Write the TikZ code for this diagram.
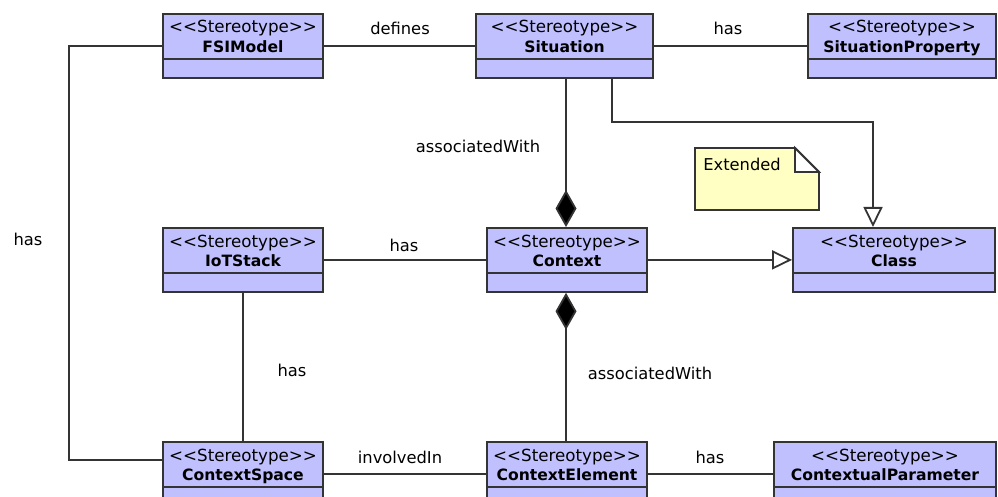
\documentclass[tikz,border=0pt]{standalone}
\usepackage{fontspec}
\setmainfont{DejaVu Sans}[Ligatures=TeXOff]
\usetikzlibrary{arrows.meta}

\definecolor{classfill}{RGB}{192,192,255}
\definecolor{notefill}{RGB}{255,255,196}
\definecolor{linec}{RGB}{52,52,52}

\tikzset{
  classbox/.style={draw=linec, fill=classfill, line width=1.8pt, rectangle,
    inner sep=0pt, minimum height=64pt},
  stereo/.style={inner sep=0pt, font=\fontsize{16.7}{18}\selectfont},
  cname/.style={inner sep=0pt, font=\fontsize{15.6}{17}\selectfont\bfseries},
  lbl/.style={inner sep=0pt, anchor=base, font=\fontsize{16.3}{18}\selectfont},
  conn/.style={draw=linec, line width=1.8pt},
  composite/.style={conn, -{Diamond[length=37pt, width=21pt, fill=black]}},
  realizes/.style={conn, -{Triangle[open, length=20pt, width=19pt, fill=white]}},
}

% name, centre x, top y, width, class name
\newcommand\umlclass[5]{%
  \node[classbox, minimum width=#4pt, anchor=north] (#1) at (#2,#3) {};
  \draw[conn] ([yshift=20pt]#1.south west) -- ([yshift=20pt]#1.south east);
  \node[stereo, anchor=base] (#1-st) at ([yshift=-20pt]#1.north) {<<Stereotype>>};
  \node[cname, anchor=base] (#1-nm) at ([yshift=-39.5pt]#1.north) {#5};
}

\begin{document}
\begin{tikzpicture}[x=1pt, y=-1pt]
  \useasboundingbox (0,0) rectangle (998,497);

  % classes
  \umlclass{fsi}{243}{13}{160}{FSIModel}
  \umlclass{sit}{564.5}{13}{177}{Situation}
  \umlclass{sprop}{902}{13}{188}{SituationProperty}
  \umlclass{iot}{243}{227}{160}{IoTStack}
  \umlclass{ctx}{567}{227}{160}{Context}
  \umlclass{cls}{894}{227}{202}{Class}
  \umlclass{cspace}{243}{441}{160}{ContextSpace}
  \umlclass{celem}{567}{441}{160}{ContextElement}
  \umlclass{cparam}{885}{441}{222}{ContextualParameter}

  % note with folded corner
  \filldraw[draw=linec, fill=notefill, line width=1.8pt]
    (695,148) -- (795,148) -- (819,172) -- (819,210) -- (695,210) -- cycle;
  \filldraw[draw=linec, fill=white, line width=1.8pt]
    (795,148) -- (795,172) -- (819,172) -- cycle;
  \node[lbl] (note) at (742,171) {Extended};

  % associations
  \draw[conn] (fsi.east) -- (sit.west);
  \draw[conn] (sit.east) -- (sprop.west);
  \draw[conn] (fsi.west) -- ++(-93,0) |- ([yshift=14pt]cspace.west);
  \draw[conn] (iot.east) -- (ctx.west);
  \draw[conn] (iot.south) -- (cspace.north);
  \draw[conn] (cspace.east) -- (celem.west);
  \draw[conn] (celem.east) -- (cparam.west);

  % compositions
  \draw[composite] ([xshift=-1pt]ctx.north |- sit.south) -- ([xshift=-1pt]ctx.north);
  \draw[composite] ([xshift=-1pt]celem.north) -- ([xshift=-1pt]ctx.south);

  % realizations
  \draw[realizes] (ctx.east) -- (cls.west);
  \draw[realizes] ([xshift=47.5pt]sit.south) -- ++(0,43) -| ([xshift=-21pt]cls.north);

  % connector labels
  \node[lbl] (l-defines) at (400,35) {defines};
  \node[lbl] (l-has1) at (728,35) {has};
  \node[lbl] (l-assoc1) at (478,153) {associatedWith};
  \node[lbl] (l-has2) at (28,245) {has};
  \node[lbl] (l-has3) at (404,251) {has};
  \node[lbl] (l-has4) at (292,376) {has};
  \node[lbl] (l-assoc2) at (650,379) {associatedWith};
  \node[lbl] (l-involved) at (400,463) {involvedIn};
  \node[lbl] (l-has5) at (710,463) {has};
\end{tikzpicture}
\end{document}
